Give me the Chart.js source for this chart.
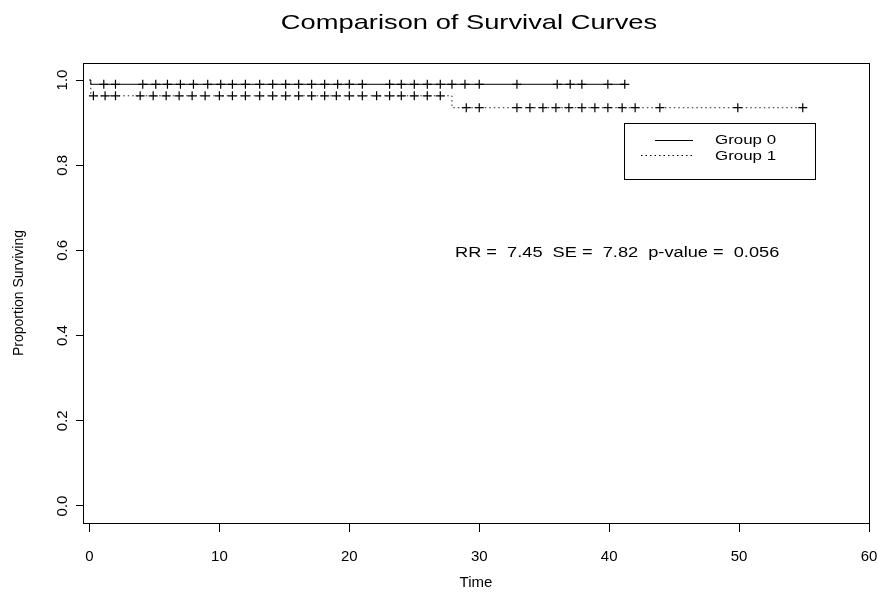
<!DOCTYPE html>
<html>
<head>
<meta charset="utf-8">
<script src="https://cdn.jsdelivr.net/npm/chart.js@4.4.0/dist/chart.umd.min.js"></script>
<style>
	html, body { margin: 0; padding: 0; background: #fff; }
</style>
</head>
<body>
<canvas id="survivalChart" width="878" height="596"></canvas>
<script>
// step points of each Kaplan-Meier curve (time, survival from that time on)
const group0StepTime = [0, 0.1, 41.2];
const group0StepSurv = [1, 0.99, 0.99];
const group1StepTime = [0, 0.1, 27.9, 54.9];
const group1StepSurv = [1, 0.963, 0.935, 0.935];

// censored observations, drawn as +
const group0Censor = [1.1, 2.0, 4.1, 5.1, 6.0, 7.0, 8.0, 9.1, 10.1, 11.0, 12.0, 13.1, 14.1,
	15.1, 16.1, 17.1, 18.1, 19.1, 20.0, 21.0, 23.1, 24.0, 25.0, 26.0, 27.0, 27.9, 28.9,
	30.0, 32.9, 36.0, 37.0, 37.9, 39.9, 41.2];
const group1Censor = [0.3, 1.2, 2.0, 3.9, 4.9, 5.9, 6.9, 7.9, 8.9, 10.0, 11.0, 12.0, 13.1,
	14.1, 15.1, 16.1, 17.1, 18.1, 19.0, 20.0, 21.0, 22.1, 23.1, 24.0, 25.0, 26.0, 27.0,
	29.0, 30.0, 32.9, 33.9, 34.9, 35.9, 36.9, 37.9, 38.9, 39.9, 41.0, 42.0, 43.9, 49.9, 54.9];

const groupLabels = ["Group 0", "Group 1"];
const xTickValues = [0, 10, 20, 30, 40, 50, 60];
const yTickValues = [0, 0.2, 0.4, 0.6, 0.8, 1.0];
const chartTitle = "Comparison of Survival Curves";
const statText = "RR =  7.45  SE =  7.82  p-value =  0.056";

function survAt(times, surv, t) {
	var s = surv[0];
	for (var i = 0; i < times.length; i++) {
		if (times[i] <= t) s = surv[i];
	}
	return s;
}

function toPoints(xs, ys) {
	return xs.map((x, i) => ({ x: x, y: ys[i] }));
}

const FONT = "'Liberation Sans', Arial, sans-serif";

// text in the reference is drawn a bit wide, so stretch it sideways
function wideText(c, str, x, y, size, align) {
	c.save();
	c.font = size + "px " + FONT;
	c.fillStyle = "#000";
	c.textBaseline = "middle";
	c.textAlign = align;
	c.translate(x, y);
	c.scale(1.3, 1);
	c.fillText(str, 0, 0);
	c.restore();
}

const decorations = {
	id: "decorations",
	afterDraw(chart) {
		const c = chart.ctx;
		const a = chart.chartArea;
		c.save();
		c.strokeStyle = "#000";
		c.lineWidth = 1;
		c.strokeRect(Math.round(a.left) + 0.5, Math.round(a.top) + 0.5,
			Math.round(a.right - a.left), Math.round(a.bottom - a.top));

		// legend box
		c.strokeRect(624.5, 123.5, 191, 56);
		c.beginPath();
		c.moveTo(655, 140.5);
		c.lineTo(693, 140.5);
		c.stroke();
		c.setLineDash([1.5, 3]);
		c.beginPath();
		c.moveTo(641, 155.5);
		c.lineTo(693, 155.5);
		c.stroke();
		c.restore();

		wideText(c, groupLabels[0], 715, 140, 13, "left");
		wideText(c, groupLabels[1], 715, 156, 13, "left");
		wideText(c, chartTitle, 469, 23, 21, "center");
		wideText(c, statText, 455, 253, 14, "left");
	}
};

const canvasSurv = document.getElementById("survivalChart").getContext("2d");

const survChart = new Chart(canvasSurv, {
	type: "scatter",
	data: {
		datasets: [
			{
				type: "line",
				label: groupLabels[0],
				data: toPoints(group0StepTime, group0StepSurv),
				stepped: "before",
				borderColor: "#000",
				borderWidth: 1,
				pointRadius: 0,
				fill: false,
			},
			{
				type: "line",
				label: groupLabels[1],
				data: toPoints(group1StepTime, group1StepSurv),
				stepped: "before",
				borderColor: "#222",
				borderWidth: 1,
				borderDash: [1.5, 3],
				pointRadius: 0,
				fill: false,
			},
			{
				label: groupLabels[0] + " censored",
				data: group0Censor.map(t => ({ x: t, y: survAt(group0StepTime, group0StepSurv, t) })),
				pointStyle: "cross",
				pointRadius: 4.5,
				borderColor: "#000",
				borderWidth: 1.2,
			},
			{
				label: groupLabels[1] + " censored",
				data: group1Censor.map(t => ({ x: t, y: survAt(group1StepTime, group1StepSurv, t) })),
				pointStyle: "cross",
				pointRadius: 4.5,
				borderColor: "#000",
				borderWidth: 1.2,
			},
		],
	},
	options: {
		responsive: false,
		animation: false,
		layout: { padding: { top: 63, right: 9, bottom: 0, left: 0 } },
		plugins: {
			legend: { display: false },
			tooltip: { enabled: false },
		},
		scales: {
			x: {
				type: "linear",
				min: -0.5,
				max: 60,
				afterBuildTicks: s => { s.ticks = xTickValues.map(v => ({ value: v })); },
				afterFit: s => {
					s.height = 73;
					s.paddingLeft = 0;
					s.paddingRight = 0;
				},
				border: { display: false },
				grid: { drawOnChartArea: false, drawTicks: true, tickLength: 9, color: "#000" },
				ticks: {
					autoSkip: false,
					maxRotation: 0,
					padding: 16,
					color: "#000",
					font: { family: FONT, size: 15 },
				},
				title: {
					display: true,
					text: "Time",
					color: "#000",
					font: { family: FONT, size: 15 },
					padding: { top: 0, bottom: 4 },
				},
			},
			y: {
				type: "linear",
				min: -0.04,
				max: 1.04,
				afterBuildTicks: s => { s.ticks = yTickValues.map(v => ({ value: v })); },
				afterFit: s => {
					s.width = 83;
					s.paddingTop = 0;
					s.paddingBottom = 0;
				},
				border: { display: false },
				grid: { drawOnChartArea: false, drawTicks: true, tickLength: 7, color: "#000" },
				ticks: {
					autoSkip: false,
					minRotation: 90,
					maxRotation: 90,
					crossAlign: "center",
					padding: 3,
					color: "#000",
					font: { family: FONT, size: 15 },
					callback: v => v.toFixed(1),
				},
				title: {
					display: true,
					text: "Proportion Surviving",
					color: "#000",
					font: { family: FONT, size: 14 },
					padding: { top: 11, bottom: 0 },
				},
			},
		},
	},
	plugins: [decorations],
});
</script>
</body>
</html>
